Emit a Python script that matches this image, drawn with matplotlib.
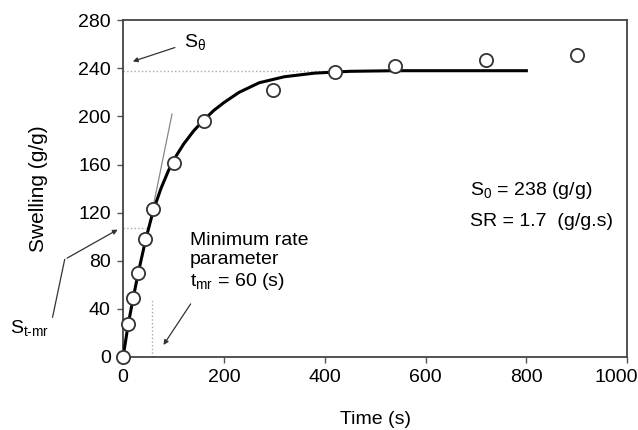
import matplotlib
matplotlib.use("Agg")
import matplotlib.pyplot as plt
import matplotlib.transforms as mtransforms

plt.rcParams['font.family'] = ['Liberation Sans', 'DejaVu Sans']
plt.rcParams['mathtext.fontset'] = 'custom'
plt.rcParams['mathtext.rm'] = 'Liberation Sans'
plt.rcParams['mathtext.it'] = 'Liberation Sans:italic'

# measured swelling points
time_pts = [0, 10, 19, 29, 44, 59, 100, 160, 298, 420, 540, 720, 900]
swell_pts = [0, 27, 49, 70, 98, 123, 161, 196, 222, 237, 242, 247, 251]

# fitted curve
time_fit = [0, 10, 20, 30, 45, 60, 75, 90, 105, 120, 140, 160, 180, 200, 230, 270, 320, 380, 450, 540, 650, 800]
swell_fit = [0, 27, 49, 70, 98, 122, 140, 155, 167, 177, 188, 197, 205, 211.5, 220, 228, 233, 236, 237.5, 238, 238, 238]

# tangent (minimum rate) line
tangent_t = [46, 97]
tangent_s = [97, 202]

s_eq = 238
s_tmr = 107
t_mr = 58

fig = plt.figure(figsize=(6.38, 4.30), dpi=100)
ax = fig.add_axes([0.193, 0.170, 0.790, 0.783])

# guide lines
ax.plot([0, 420], [s_eq, s_eq], ':', color='#aaaaaa', lw=1)
ax.plot([0, 45], [s_tmr, s_tmr], ':', color='#aaaaaa', lw=1)
ax.plot([t_mr, t_mr], [0, 47], ':', color='#aaaaaa', lw=1)
ax.plot(tangent_t, tangent_s, '-', color='#888888', lw=0.9)

ax.plot(time_fit, swell_fit, '-', color='black', lw=2.2, zorder=3)
ax.plot(time_pts, swell_pts, 'o', ms=9.5, mfc='white', mec='#333333', mew=1.3,
        zorder=4, clip_on=False)

ax.set_xlim(0, 1000)
ax.set_ylim(0, 280)
ax.set_xticks(range(0, 1001, 200))
ax.set_yticks(range(0, 281, 40))
ax.tick_params(direction='out', length=4, width=1, color='#555555', labelsize=14, pad=5)
for sp in ax.spines.values():
    sp.set_color('#444444')
    sp.set_linewidth(1.3)

# keep the last x label inside the figure
fig.canvas.draw()
last = ax.get_xticklabels()[-1]
last.set_transform(last.get_transform() + mtransforms.ScaledTranslation(-8 / 72, 0, fig.dpi_scale_trans))

ax.set_xlabel('Time (s)', fontsize=14)
ax.set_ylabel('Swelling (g/g)', fontsize=15)
ax.xaxis.set_label_coords(0.5, -0.16)
ax.yaxis.set_label_coords(-0.15, 0.5)

# annotations
arrow_kw = dict(arrowstyle='-|>', color='#333333', lw=0.9, mutation_scale=7)
ax.annotate('', xy=(14, 245), xytext=(108, 258), arrowprops=arrow_kw)
ax.text(120, 262, r'S$_\mathregular{\theta}$', fontsize=14, va='center', ha='left')

ax.text(132, 104, 'Minimum rate\nparameter\n' + r't$_\mathregular{mr}$ = 60 (s)',
        fontsize=14, va='top', ha='left', linespacing=1.2)
ax.annotate('', xy=(77, 8), xytext=(137, 46), arrowprops=arrow_kw)

ax.plot([-140, -116], [33, 81], '-', color='#333333', lw=0.9, clip_on=False)
ax.annotate('', xy=(-6, 107), xytext=(-116, 81), arrowprops=arrow_kw,
            annotation_clip=False)
ax.text(-225, 24, r'S$_\mathregular{\text{t-mr}}$', fontsize=14, va='center', ha='left')

ax.text(688, 138, r'S$_\mathregular{0}$ = 238 (g/g)', fontsize=14, va='center', ha='left')
ax.text(688, 113, 'SR = 1.7  (g/g.s)', fontsize=14, va='center', ha='left')

fig.savefig('out.png', dpi=100)
